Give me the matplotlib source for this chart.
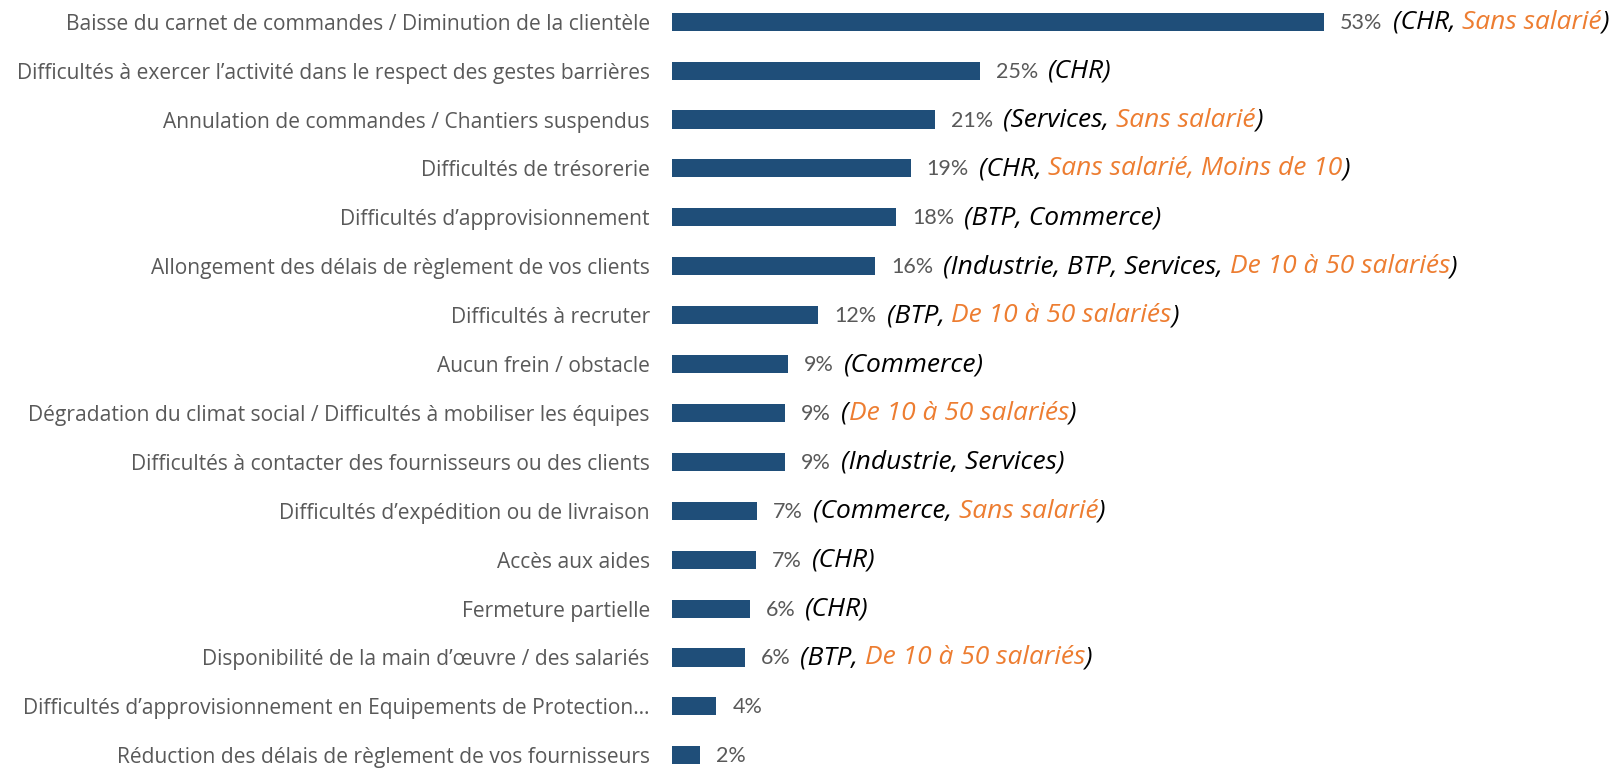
import matplotlib
matplotlib.use("Agg")
import matplotlib.pyplot as plt

categories = [
    "Baisse du carnet de commandes / Diminution de la clientèle",
    "Difficultés à exercer l’activité dans le respect des gestes barrières",
    "Annulation de commandes / Chantiers suspendus",
    "Difficultés de trésorerie",
    "Difficultés d’approvisionnement",
    "Allongement des délais de règlement de vos clients",
    "Difficultés à recruter",
    "Aucun frein / obstacle",
    "Dégradation du climat social / Difficultés à mobiliser les équipes",
    "Difficultés à contacter des fournisseurs ou des clients",
    "Difficultés d’expédition ou de livraison",
    "Accès aux aides",
    "Fermeture partielle",
    "Disponibilité de la main d’œuvre / des salariés",
    "Difficultés d’approvisionnement en Equipements de Protection…",
    "Réduction des délais de règlement de vos fournisseurs",
]
values = [53, 25, 21.4, 19.4, 18.2, 16.5, 11.9, 9.4, 9.2, 9.2, 6.9, 6.8, 6.3, 5.9, 3.6, 2.3]
value_labels = ["53%", "25%", "21%", "19%", "18%", "16%", "12%", "9%", "9%", "9%",
                "7%", "7%", "6%", "6%", "4%", "2%"]
# annotation pieces: (text, highlighted?)
notes = [
    [("(CHR, ", False), ("Sans salarié", True), (")", False)],
    [("(CHR)", False)],
    [("(Services, ", False), ("Sans salarié", True), (")", False)],
    [("(CHR, ", False), ("Sans salarié, Moins de 10", True), (")", False)],
    [("(BTP, Commerce)", False)],
    [("(Industrie, BTP, Services, ", False), ("De 10 à 50 salariés", True), (")", False)],
    [("(BTP, ", False), ("De 10 à 50 salariés", True), (")", False)],
    [("(Commerce)", False)],
    [("(", False), ("De 10 à 50 salariés", True), (")", False)],
    [("(Industrie, Services)", False)],
    [("(Commerce, ", False), ("Sans salarié", True), (")", False)],
    [("(CHR)", False)],
    [("(CHR)", False)],
    [("(BTP, ", False), ("De 10 à 50 salariés", True), (")", False)],
    [],
    [],
]

BAR = "#1F4E79"
ORANGE = "#ED7D31"
GREY = "#595959"

fig = plt.figure(figsize=(16.22, 7.69), dpi=100)
ax = fig.add_axes([672 / 1622, 0, 1 - 672 / 1622, 1])
ypos = list(range(len(categories)))
ax.barh(ypos, values, height=0.37, color=BAR)
ax.set_xlim(0, 77.2)
ax.set_ylim(15.28, -0.444)
ax.set_yticks(ypos)
ax.set_yticklabels(categories, fontsize=15.1, color=GREY, family="Open Sans")
ax.tick_params(axis="y", length=0, pad=16)
ax.set_xticks([])
for s in ax.spines.values():
    s.set_visible(False)

renderer = fig.canvas.get_renderer()
for i, (v, lab, pieces) in enumerate(zip(values, value_labels, notes)):
    t = ax.annotate(lab, xy=(v, i), xytext=(16, -7), textcoords="offset pixels",
                    va="baseline", ha="left", fontsize=15.5, color=GREY, family="Lato")
    x_off = 16 + t.get_window_extent(renderer).width + 10
    for txt, hl in pieces:
        p = ax.annotate(txt, xy=(v, i), xytext=(x_off, -7), textcoords="offset pixels",
                        va="baseline", ha="left", fontsize=19, style="italic",
                        color=ORANGE if hl else "black", family="Open Sans")
        x_off += p.get_window_extent(renderer).width

fig.savefig("out.png", dpi=100)
